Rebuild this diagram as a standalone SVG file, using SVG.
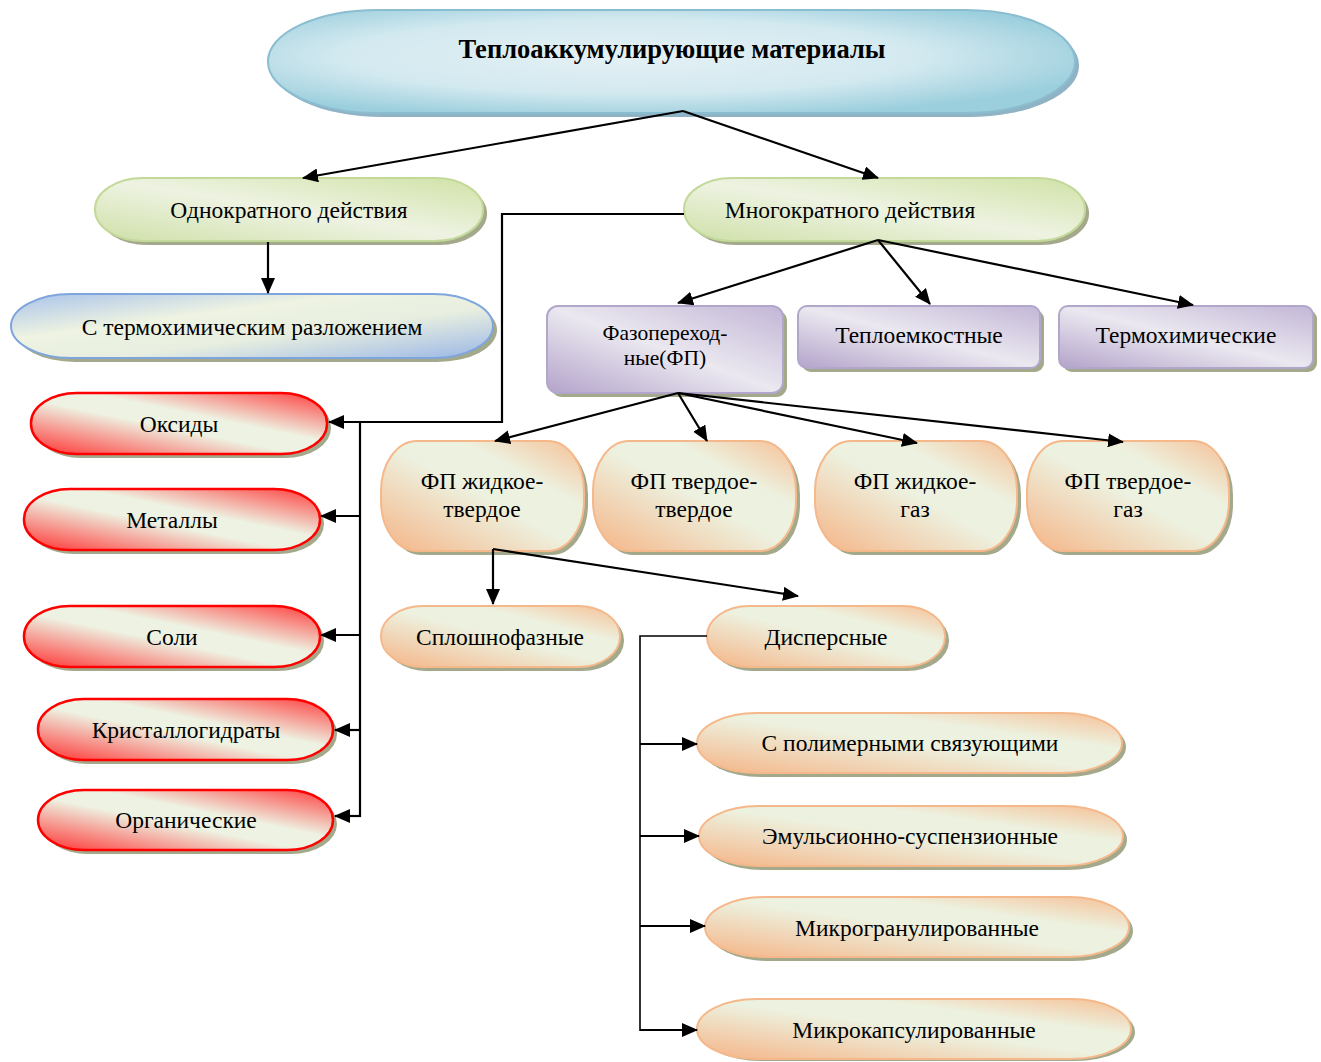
<svg xmlns="http://www.w3.org/2000/svg" width="1321" height="1062" viewBox="0 0 1321 1062">
<defs>
<style>
text{font-family:"Liberation Serif","Times New Roman",serif;font-size:23.5px;fill:#000;text-anchor:middle;dominant-baseline:central}
.title{font-weight:bold;font-size:26.5px}
.sm{font-size:21.5px}
.sh{fill:#a3a98a}
.shb{fill:#8fb3c4}
.red{fill:url(#gRed);stroke:#ff0000;stroke-width:2.5}
.org{fill:url(#gOrg);stroke:#f5b88a;stroke-width:2}
.grn{fill:url(#gGrn);stroke:#c3d99a;stroke-width:2}
.pur{fill:url(#gPur);stroke:#b3a6cb;stroke-width:2}
.blu{fill:url(#gBlu);stroke:#8bbdd0;stroke-width:2}
.blu2{fill:url(#gBlu2);stroke:#7fa6dc;stroke-width:2}
.c{fill:none;stroke:#000;stroke-width:2.2}
.ca{fill:none;stroke:#000;stroke-width:2.2;marker-end:url(#ah)}
</style>
<marker id="ah" markerUnits="userSpaceOnUse" markerWidth="16" markerHeight="14" refX="15" refY="7" orient="auto">
<path d="M0,0 L16,7 L0,14 z" fill="#000"/>
</marker>
<linearGradient id="gRed" x1="0" y1="1" x2="1" y2="0">
<stop offset="0" stop-color="#ff3030"/>
<stop offset="0.45" stop-color="#eef2e2"/>
<stop offset="0.6" stop-color="#eef2e2"/>
<stop offset="1" stop-color="#ff3a3a"/>
</linearGradient>
<linearGradient id="gOrg" x1="0" y1="1" x2="1" y2="0">
<stop offset="0" stop-color="#f5b486"/>
<stop offset="0.5" stop-color="#edf1df"/>
<stop offset="0.7" stop-color="#edf1df"/>
<stop offset="1" stop-color="#f6bf94"/>
</linearGradient>
<linearGradient id="gGrn" x1="0" y1="1" x2="1" y2="0">
<stop offset="0" stop-color="#cfe0a8"/>
<stop offset="0.5" stop-color="#eef3e2"/>
<stop offset="1" stop-color="#d0e2a6"/>
</linearGradient>
<linearGradient id="gPur" x1="0" y1="1" x2="1" y2="0">
<stop offset="0" stop-color="#b3a3ca"/>
<stop offset="0.5" stop-color="#ebe8f0"/>
<stop offset="1" stop-color="#c2b6d6"/>
</linearGradient>
<radialGradient id="gBlu" cx="0.45" cy="0.45" r="0.6">
<stop offset="0" stop-color="#e4f1f5"/>
<stop offset="0.6" stop-color="#d3e9f0"/>
<stop offset="1" stop-color="#9ccfdd"/>
</radialGradient>
<linearGradient id="gBlu2" x1="0" y1="0" x2="1" y2="1">
<stop offset="0" stop-color="#a8c2ea"/>
<stop offset="0.35" stop-color="#eef3e2"/>
<stop offset="0.6" stop-color="#e8efe0"/>
<stop offset="1" stop-color="#9ab6e6"/>
</linearGradient>
</defs>
<rect width="1321" height="1062" fill="#fff"/>

<g id="n-root">
<rect class="shb" x="272" y="14" width="807" height="103" rx="110" ry="51"/>
<rect class="blu" x="268" y="10" width="807" height="103" rx="110" ry="51"/>
<text class="title" x="672" y="49">Теплоаккумулирующие материалы</text>
</g>

<g id="n-odnokr">
<rect class="sh" x="99" y="182" width="388" height="63" rx="48" ry="31"/>
<rect class="grn" x="95" y="178" width="388" height="63" rx="48" ry="31"/>
<text x="289" y="210">Однократного действия</text>
</g>
<g id="n-mnogokr">
<rect class="sh" x="688" y="182" width="401" height="63" rx="48" ry="31"/>
<rect class="grn" x="684" y="178" width="401" height="63" rx="48" ry="31"/>
<text x="850" y="210">Многократного действия</text>
</g>

<g id="n-termorazl">
<rect class="sh" x="15" y="298" width="482" height="64" rx="60" ry="32"/>
<rect class="blu2" x="11" y="294" width="482" height="64" rx="60" ry="32"/>
<text x="252" y="327">С термохимическим разложением</text>
</g>

<g id="n-oksidy">
<rect class="sh" x="35" y="397" width="296" height="61" rx="46" ry="30"/>
<rect class="red" x="31" y="393" width="296" height="61" rx="46" ry="30"/>
<text x="179" y="424">Оксиды</text>
</g>
<g id="n-metally">
<rect class="sh" x="28" y="493" width="296" height="61" rx="46" ry="30"/>
<rect class="red" x="24" y="489" width="296" height="61" rx="46" ry="30"/>
<text x="172" y="520">Металлы</text>
</g>
<g id="n-soli">
<rect class="sh" x="28" y="610" width="296" height="61" rx="46" ry="30"/>
<rect class="red" x="24" y="606" width="296" height="61" rx="46" ry="30"/>
<text x="172" y="637">Соли</text>
</g>
<g id="n-kristall">
<rect class="sh" x="42" y="703" width="295" height="61" rx="46" ry="30"/>
<rect class="red" x="38" y="699" width="295" height="61" rx="46" ry="30"/>
<text x="186" y="730">Кристаллогидраты</text>
</g>
<g id="n-organ">
<rect class="sh" x="42" y="794" width="295" height="60" rx="46" ry="30"/>
<rect class="red" x="38" y="790" width="295" height="60" rx="46" ry="30"/>
<text x="186" y="820">Органические</text>
</g>

<g id="n-fazo">
<rect class="sh" x="551" y="310" width="236" height="87" rx="11"/>
<rect class="pur" x="547" y="306" width="236" height="87" rx="11"/>
<text class="sm" x="665" y="333">Фазопереход-</text>
<text class="sm" x="665" y="358">ные(ФП)</text>
</g>
<g id="n-teploemk">
<rect class="sh" x="802" y="310" width="242" height="62" rx="9"/>
<rect class="pur" x="798" y="306" width="242" height="62" rx="9"/>
<text x="919" y="335">Теплоемкостные</text>
</g>
<g id="n-termohim">
<rect class="sh" x="1063" y="310" width="254" height="62" rx="9"/>
<rect class="pur" x="1059" y="306" width="254" height="62" rx="9"/>
<text x="1186" y="335">Термохимические</text>
</g>

<g id="n-fp-zht">
<rect class="sh" x="385" y="445" width="203" height="110" rx="36" ry="50"/>
<rect class="org" x="381" y="441" width="203" height="110" rx="36" ry="50"/>
<text x="482" y="481">ФП жидкое-</text>
<text x="482" y="509">твердое</text>
</g>
<g id="n-fp-tt">
<rect class="sh" x="597" y="445" width="203" height="110" rx="36" ry="50"/>
<rect class="org" x="593" y="441" width="203" height="110" rx="36" ry="50"/>
<text x="694" y="481">ФП твердое-</text>
<text x="694" y="509">твердое</text>
</g>
<g id="n-fp-zhg">
<rect class="sh" x="819" y="445" width="202" height="110" rx="36" ry="50"/>
<rect class="org" x="815" y="441" width="202" height="110" rx="36" ry="50"/>
<text x="915" y="481">ФП жидкое-</text>
<text x="915" y="509">газ</text>
</g>
<g id="n-fp-tg">
<rect class="sh" x="1031" y="445" width="202" height="110" rx="36" ry="50"/>
<rect class="org" x="1027" y="441" width="202" height="110" rx="36" ry="50"/>
<text x="1128" y="481">ФП твердое-</text>
<text x="1128" y="509">газ</text>
</g>

<g id="n-sploshn">
<rect class="sh" x="385" y="610" width="239" height="61" rx="42" ry="30"/>
<rect class="org" x="381" y="606" width="239" height="61" rx="42" ry="30"/>
<text x="500" y="637">Сплошнофазные</text>
</g>
<g id="n-dispers">
<rect class="sh" x="711" y="610" width="238" height="61" rx="42" ry="30"/>
<rect class="org" x="707" y="606" width="238" height="61" rx="42" ry="30"/>
<text x="826" y="637">Дисперсные</text>
</g>

<g id="n-polim">
<rect class="sh" x="701" y="717" width="425" height="60" rx="60" ry="30"/>
<rect class="org" x="697" y="713" width="425" height="60" rx="60" ry="30"/>
<text x="910" y="743">С полимерными связующими</text>
</g>
<g id="n-emuls">
<rect class="sh" x="703" y="810" width="424" height="60" rx="60" ry="30"/>
<rect class="org" x="699" y="806" width="424" height="60" rx="60" ry="30"/>
<text x="910" y="836">Эмульсионно-суспензионные</text>
</g>
<g id="n-mikrogr">
<rect class="sh" x="709" y="901" width="424" height="60" rx="60" ry="30"/>
<rect class="org" x="705" y="897" width="424" height="60" rx="60" ry="30"/>
<text x="917" y="928">Микрогранулированные</text>
</g>
<g id="n-mikrokaps">
<rect class="sh" x="701" y="1003" width="434" height="58" rx="60" ry="30"/>
<rect class="org" x="697" y="999" width="434" height="60" rx="60" ry="30"/>
<text x="914" y="1030">Микрокапсулированные</text>
</g>

<g id="connectors">
<line class="ca" x1="683" y1="111" x2="303" y2="178"/>
<line class="ca" x1="683" y1="111" x2="878" y2="178"/>
<line class="ca" x1="268" y1="242" x2="268" y2="293"/>
<polyline class="ca" points="684,214 502,214 502,422 329,422"/>
<line class="c" x1="360" y1="422" x2="360" y2="817"/>
<line class="ca" x1="360" y1="516" x2="321" y2="516"/>
<line class="ca" x1="360" y1="635" x2="321" y2="635"/>
<line class="ca" x1="360" y1="730" x2="335" y2="730"/>
<line class="ca" x1="361" y1="816" x2="335" y2="816"/>
<line class="ca" x1="878" y1="240" x2="678" y2="303"/>
<line class="ca" x1="878" y1="240" x2="930" y2="304"/>
<line class="ca" x1="878" y1="240" x2="1193" y2="305"/>
<line class="ca" x1="678" y1="393" x2="495" y2="441"/>
<line class="ca" x1="678" y1="393" x2="707" y2="441"/>
<line class="ca" x1="678" y1="393" x2="917" y2="443"/>
<line class="ca" x1="678" y1="393" x2="1123" y2="442"/>
<line class="ca" x1="493" y1="549" x2="493" y2="604"/>
<line class="ca" x1="493" y1="549" x2="798" y2="596"/>
<polyline class="c" style="stroke-width:1.6" points="707,636 640,636 640,1031"/>
<line class="ca" x1="640" y1="744" x2="697" y2="744"/>
<line class="ca" x1="640" y1="836" x2="699" y2="836"/>
<line class="ca" x1="640" y1="926" x2="705" y2="926"/>
<line class="ca" x1="640" y1="1030" x2="697" y2="1030"/>
</g>
</svg>
